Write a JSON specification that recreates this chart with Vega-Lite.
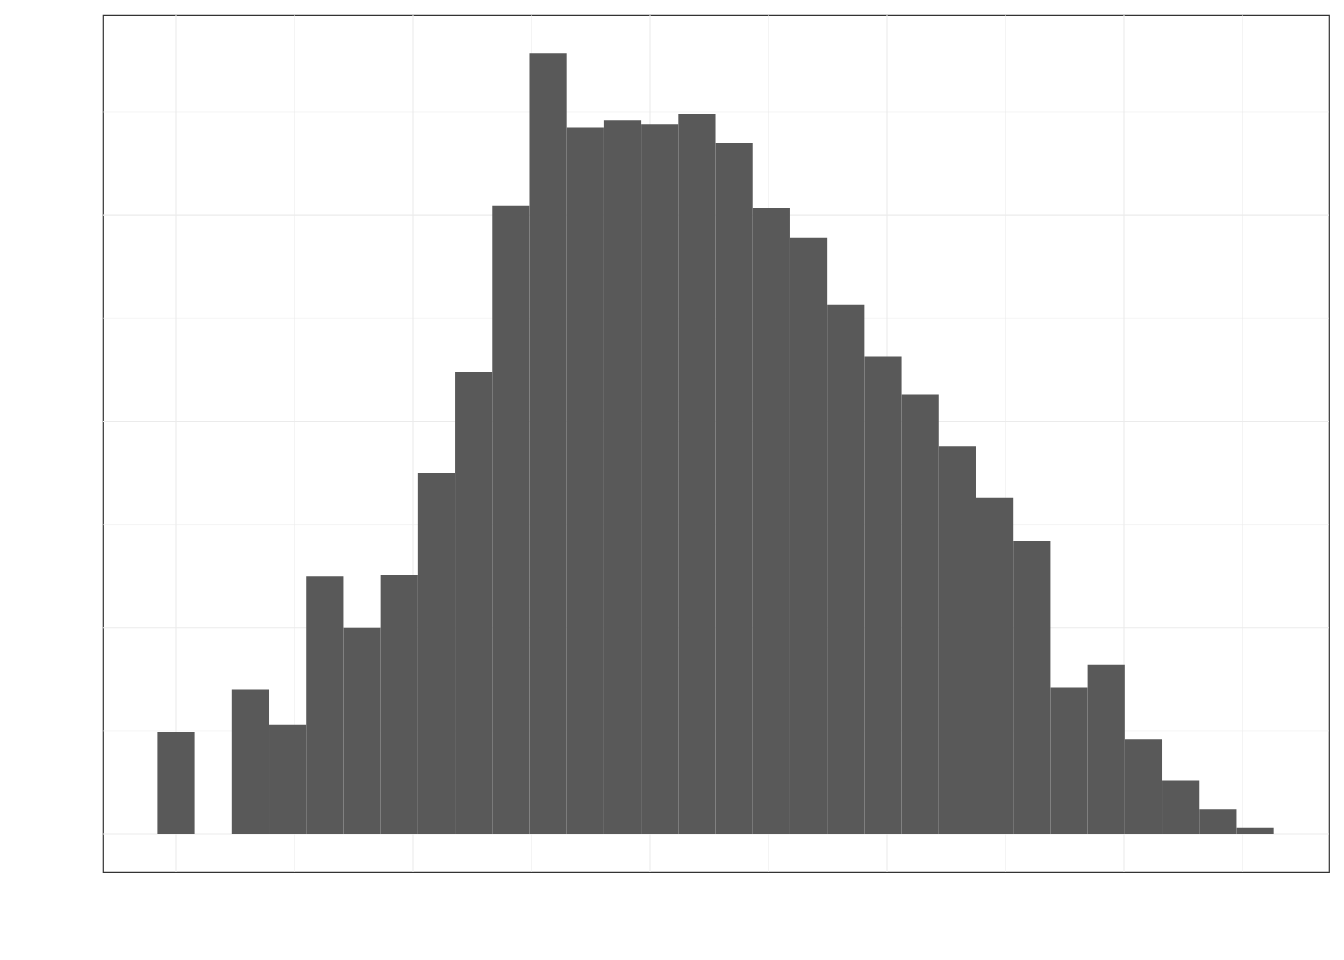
{
  "$schema": "https://vega.github.io/schema/vega-lite/v6.json",
  "width": 1226,
  "height": 857,
  "autosize": {"type": "none"},
  "padding": {"left": 103, "top": 15, "right": 15, "bottom": 88},
  "background": "white",
  "config": {
    "view": {"stroke": "#333333", "strokeWidth": 1.2},
    "font": "Liberation Sans",
    "axis": {"grid": false, "domain": false, "tickColor": "#333333", "tickSize": 5, "labelColor": "#4D4D4D", "labelFontSize": 17, "titleFontSize": 22, "titleFontWeight": "normal", "titleColor": "black", "labelFont": "Liberation Sans", "titleFont": "Liberation Sans"}
  },
  "datasets": {
    "bins": [
      {"lo": -0.0785, "hi": 0.0785, "count": 99},
      {"lo": 0.2355, "hi": 0.3925, "count": 140},
      {"lo": 0.3925, "hi": 0.5495, "count": 106},
      {"lo": 0.5495, "hi": 0.7065, "count": 250},
      {"lo": 0.7065, "hi": 0.8635, "count": 200},
      {"lo": 0.8635, "hi": 1.0205, "count": 251},
      {"lo": 1.0205, "hi": 1.1775, "count": 350},
      {"lo": 1.1775, "hi": 1.3345, "count": 448},
      {"lo": 1.3345, "hi": 1.4915, "count": 609},
      {"lo": 1.4915, "hi": 1.6485, "count": 757},
      {"lo": 1.6485, "hi": 1.8055, "count": 685},
      {"lo": 1.8055, "hi": 1.9625, "count": 692},
      {"lo": 1.9625, "hi": 2.1195, "count": 688},
      {"lo": 2.1195, "hi": 2.2765, "count": 698},
      {"lo": 2.2765, "hi": 2.4335, "count": 670},
      {"lo": 2.4335, "hi": 2.5905, "count": 607},
      {"lo": 2.5905, "hi": 2.7475, "count": 578},
      {"lo": 2.7475, "hi": 2.9045, "count": 513},
      {"lo": 2.9045, "hi": 3.0615, "count": 463},
      {"lo": 3.0615, "hi": 3.2185, "count": 426},
      {"lo": 3.2185, "hi": 3.3755, "count": 376},
      {"lo": 3.3755, "hi": 3.5325, "count": 326},
      {"lo": 3.5325, "hi": 3.6895, "count": 284},
      {"lo": 3.6895, "hi": 3.8465, "count": 142},
      {"lo": 3.8465, "hi": 4.0035, "count": 164},
      {"lo": 4.0035, "hi": 4.1605, "count": 92},
      {"lo": 4.1605, "hi": 4.3175, "count": 52},
      {"lo": 4.3175, "hi": 4.4745, "count": 24},
      {"lo": 4.4745, "hi": 4.6315, "count": 6}
    ],
    "xgrid": [
      {"v": 0, "w": 1.1}, {"v": 1, "w": 1.1}, {"v": 2, "w": 1.1}, {"v": 3, "w": 1.1}, {"v": 4, "w": 1.1},
      {"v": 0.5, "w": 0.55}, {"v": 1.5, "w": 0.55}, {"v": 2.5, "w": 0.55}, {"v": 3.5, "w": 0.55}, {"v": 4.5, "w": 0.55}
    ],
    "ygrid": [
      {"v": 0, "w": 1.1}, {"v": 200, "w": 1.1}, {"v": 400, "w": 1.1}, {"v": 600, "w": 1.1},
      {"v": 100, "w": 0.55}, {"v": 300, "w": 0.55}, {"v": 500, "w": 0.55}, {"v": 700, "w": 0.55}
    ]
  },
  "layer": [
    {
      "data": {"name": "xgrid"},
      "mark": {"type": "rule", "color": "#EBEBEB"},
      "encoding": {
        "x": {"field": "v", "type": "quantitative", "scale": {"domain": [-0.308, 4.865], "nice": false, "zero": false}, "axis": null},
        "strokeWidth": {"field": "w", "type": "quantitative", "scale": null}
      }
    },
    {
      "data": {"name": "ygrid"},
      "mark": {"type": "rule", "color": "#EBEBEB"},
      "encoding": {
        "y": {"field": "v", "type": "quantitative", "scale": {"domain": [-36.8, 794], "nice": false, "zero": false}, "axis": null},
        "strokeWidth": {"field": "w", "type": "quantitative", "scale": null}
      }
    },
    {
      "data": {"name": "bins"},
      "mark": {"type": "rect", "color": "#595959"},
      "encoding": {
        "x": {"field": "lo", "type": "quantitative", "scale": {"domain": [-0.308, 4.865], "nice": false, "zero": false},
          "axis": {"values": [0, 1, 2, 3, 4], "labelExpr": "format(pow(10, datum.value), ',.1f')", "title": "Number of Ratings per Movie", "titlePadding": 8}},
        "x2": {"field": "hi"},
        "y": {"field": "count", "type": "quantitative", "scale": {"domain": [-36.8, 794], "nice": false, "zero": false},
          "axis": {"values": [0, 200, 400, 600], "title": "Number of Movies", "titlePadding": 12}},
        "y2": {"datum": 0}
      }
    }
  ]
}
